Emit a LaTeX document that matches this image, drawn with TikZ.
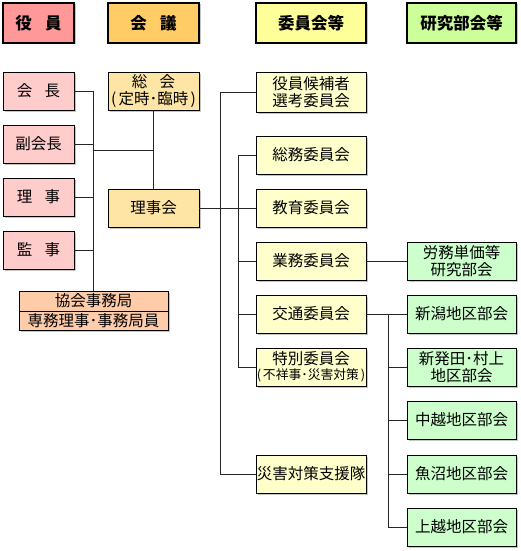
\documentclass[tikz,border=0pt]{standalone}
\usepackage{fontspec}
\setmainfont{Noto Sans CJK JP}
\usepackage{tikz}
\usetikzlibrary{positioning,shadows}
\usepackage{xcolor}
\definecolor{hdrred}{HTML}{FF9999}
\definecolor{hdrorange}{HTML}{FFCC66}
\definecolor{hdryellow}{HTML}{FFFF99}
\definecolor{hdrgreen}{HTML}{CCFF99}
\definecolor{boxpink}{HTML}{FFCCCC}
\definecolor{boxtan}{HTML}{FFE5A5}
\definecolor{boxyellow}{HTML}{FFFFCC}
\definecolor{boxgreen}{HTML}{CCFFCC}
\definecolor{boxsalmon}{HTML}{FFCCAA}
\newcommand{\gap}{\hspace{0.8em}}
\newcommand{\paren}[1]{(\hspace{0.15em}#1\hspace{0.15em})}

\begin{document}
\begin{tikzpicture}[
  x=1pt, y=1pt,
  node distance=15pt,
  hdr/.style={draw, line width=1.6pt, minimum height=40pt, inner sep=0pt, outer sep=0pt,
    font=\fontsize{16.5}{18}\selectfont\bfseries,
    drop shadow={shadow xshift=1.5pt, shadow yshift=-1.5pt, fill=black!45}},
  box/.style={draw, line width=0.8pt, minimum height=38pt, inner sep=0pt, outer sep=0pt, align=center,
    font=\fontsize{15.5}{17}\selectfont,
    drop shadow={shadow xshift=1.5pt, shadow yshift=-1.5pt, fill=black!45}},
  yak/.style={box, fill=boxpink, minimum width=71pt},
  kai/.style={box, fill=boxtan, minimum width=91pt},
  iin/.style={box, fill=boxyellow, minimum width=110pt},
  ken/.style={box, fill=boxgreen, minimum width=109pt},
  line/.style={line width=0.75pt, black!85}
]
\useasboundingbox (0,0) rectangle (521,-551);

% headers
\node[hdr, fill=hdrred, minimum width=71pt] (h1) at (38.5,-23) {役\gap 員};
\node[hdr, fill=hdrorange, minimum width=91pt] (h2) at (153.5,-23) {会\gap 議};
\node[hdr, fill=hdryellow, minimum width=110pt] (h3) at (311,-23) {委員会等};
\node[hdr, fill=hdrgreen, minimum width=109pt] (h4) at (461.5,-23) {研究部会等};

% officers
\node[yak] (kaicho) at (38.5,-91) {会\gap 長};
\node[yak, below=of kaicho] (fuku) {副会長};
\node[yak, below=of fuku] (riji) {理\gap 事};
\node[yak, below=of riji] (kanji) {監\gap 事};
\node[box, fill=boxsalmon, minimum width=149pt, minimum height=20pt] (jim1) at (93.5,-301) {協会事務局};
\node[box, fill=boxsalmon, minimum width=149pt, minimum height=19pt, below=0pt of jim1] (jim2) {専務理事･事務局員};

% meetings
\node[kai] (sokai) at (153.5,-91) {総\gap 会\\\paren{定時･臨時}};
\node[kai] (rijikai) at (153.5,-208) {理事会};

% committees
\node[iin, minimum height=40pt] (koho) at (311,-92) {役員候補者\\選考委員会};
\node[iin, below=24pt of koho] (somu) {総務委員会};
\node[iin, below=of somu] (kyoiku) {教育委員会};
\node[iin, below=of kyoiku] (gyomu) {業務委員会};
\node[iin, below=of gyomu] (kotsu) {交通委員会};
\node[iin, below=of kotsu] (toku) {特別委員会\\[-2pt]{\fontsize{12.8}{14}\selectfont\paren{不祥事･災害対策}}};
\node[iin, below=69pt of toku] (saigai) {災害対策支援隊};

% research groups
\node[ken, right=41pt of gyomu] (romu) {労務単価等\\研究部会};
\node[ken, right=41pt of kotsu] (niigata) {新潟地区部会};
\node[ken, below=of niigata] (shibata) {新発田･村上\\地区部会};
\node[ken, below=of shibata] (chuetsu) {中越地区部会};
\node[ken, below=16pt of chuetsu] (uonuma) {魚沼地区部会};
\node[ken, below=of uonuma] (joetsu) {上越地区部会};

% officers to office
\draw[line] (kaicho.east) -- (kaicho.east -| jim1.north) -- (jim1.north);
\foreach \n in {fuku,riji,kanji}
  \draw[line] (\n.east) -- (\n.east -| jim1.north);
\coordinate (tie) at (94,-150);
\draw[line] (tie) -- (tie -| sokai.south);
\draw[line] (sokai.south) -- (rijikai.north);

% board to committees
\draw[line] (rijikai.east) -- (kyoiku.west);
\draw[line] (koho.west) -- ++(-36,0) |- (saigai.west);
\draw[line] (somu.west) -- ++(-18,0) |- (toku.west);
\foreach \n in {gyomu,kotsu}
  \draw[line] (\n.west) -- ++(-18,0);

% committees to research groups
\draw[line] (gyomu.east) -- (romu.west);
\draw[line] (kotsu.east) -- (niigata.west);
\draw[line] (niigata.west) -- ++(-19,0) |- (joetsu.west);
\foreach \n in {shibata,chuetsu,uonuma}
  \draw[line] (\n.west) -- ++(-19,0);
\end{tikzpicture}
\end{document}
